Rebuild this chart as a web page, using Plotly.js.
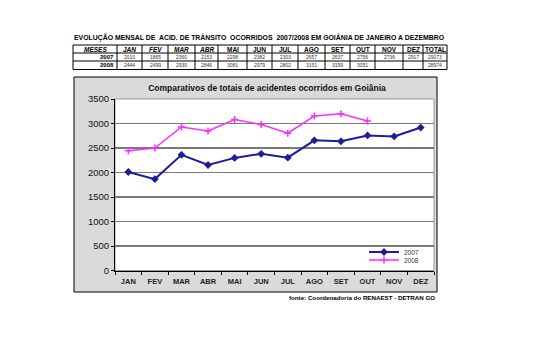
<!DOCTYPE html>
<html>
<head>
<meta charset="utf-8">
<script src="https://cdn.plot.ly/plotly-3.0.1.min.js"></script>
<style>html,body{margin:0;padding:0;background:#fff;}#chart{width:550px;height:351px;}</style>
</head>
<body>
<div id="chart"></div>
<script>
const months = ["JAN","FEV","MAR","ABR","MAI","JUN","JUL","AGO","SET","OUT","NOV","DEZ"];
const values2007 = [2010, 1865, 2360, 2153, 2298, 2382, 2303, 2657, 2637, 2756, 2736, 2917];
const values2008 = [2444, 2499, 2930, 2846, 3081, 2979, 2802, 3151, 3199, 3051, null, null];
const total2007 = "29073";
const total2008 = "28974";
const seriesNames = ["2007", "2008"];
const rowLabels = ["2007", "2008"];
const tableTitle = "EVOLUÇÃO MENSAL DE  ACID. DE TRÂNSITO  OCORRIDOS  2007/2008 EM GOIÂNIA DE JANEIRO A DEZEMBRO";
const chartTitle = "Comparativos de totais de acidentes ocorridos em Goiânia";
const sourceText = "fonte: Coordenadoria do RENAEST - DETRAN GO";

const W = 550, H = 351;
const px = x => x / W;
const py = y => 1 - y / H;

const narrow = "Liberation Sans Narrow, Arial Narrow, Liberation Sans, sans-serif";
const arial = "Liberation Sans, Arial, sans-serif";

// ---- table layout (positions in px) ----
const colEdges = [73, 117, 142, 168, 195, 218, 247, 272, 298, 325, 350, 375, 403, 423, 447];
const rowEdges = [45, 53, 61, 69.5];

const shapes = [];
const annotations = [];

// chart box background & plot area
shapes.push({type: "rect", xref: "paper", yref: "paper", layer: "below",
  x0: px(74), x1: px(437), y0: py(292), y1: py(77),
  fillcolor: "#dadada", line: {color: "#000", width: 1}});
shapes.push({type: "rect", xref: "paper", yref: "paper", layer: "below",
  x0: px(115), x1: px(434), y0: py(270.5), y1: py(99),
  fillcolor: "#fff", line: {color: "#999", width: 1}});

// table grid
rowEdges.forEach(y => shapes.push({type: "line", xref: "paper", yref: "paper",
  x0: px(colEdges[0]), x1: px(colEdges[colEdges.length - 1]), y0: py(y), y1: py(y),
  line: {color: "#000", width: 1}}));
colEdges.forEach(x => shapes.push({type: "line", xref: "paper", yref: "paper",
  x0: px(x), x1: px(x), y0: py(rowEdges[0]), y1: py(rowEdges[rowEdges.length - 1]),
  line: {color: "#000", width: 1}}));

const headerVals = ["MESES"].concat(months).concat(["TOTAL"]);
const rows = [
  [rowLabels[0]].concat(values2007.map(v => String(v))).concat([total2007]),
  [rowLabels[1]].concat(values2008.map(v => v == null ? "" : String(v))).concat([total2008])
];
function cellCenter(c) { return (colEdges[c] + colEdges[c + 1]) / 2; }
headerVals.forEach((h, c) => {
  annotations.push({text: c <= 4 ? "<b><i>" + h + "</i></b>" : "<b>" + h + "</b>",
    xref: "paper", yref: "paper", x: px(cellCenter(c)), y: py((rowEdges[0] + rowEdges[1]) / 2),
    xanchor: "center", yanchor: "middle", showarrow: false,
    font: {family: narrow, size: 6.5, color: "#000"}});
});
rows.forEach((r, ri) => {
  r.forEach((v, c) => {
    if (v === "") return;
    const yc = py((rowEdges[ri + 1] + rowEdges[ri + 2]) / 2);
    if (c === 0) {
      annotations.push({text: "<b>" + v + "</b>", xref: "paper", yref: "paper",
        x: px(colEdges[1] - 1), y: yc, xanchor: "right", yanchor: "middle", showarrow: false,
        font: {family: narrow, size: 6, color: "#000"}});
    } else {
      annotations.push({text: v, xref: "paper", yref: "paper",
        x: px(cellCenter(c)), y: yc, xanchor: "center", yanchor: "middle", showarrow: false,
        font: {family: narrow, size: 5, color: "#333"}});
    }
  });
});

annotations.push({text: "<b>" + tableTitle + "</b>", xref: "paper", yref: "paper", x: px(259), y: py(37),
  xanchor: "center", yanchor: "middle", showarrow: false,
  font: {family: narrow, size: 6.9, color: "#000"}});
annotations.push({text: "<b>" + sourceText + "</b>", xref: "paper", yref: "paper", x: px(437), y: py(297.5),
  xanchor: "right", yanchor: "middle", showarrow: false,
  font: {family: arial, size: 6.2, color: "#000"}});

const t2007 = {
  type: "scatter", mode: "lines+markers", name: seriesNames[0], legend: "legend",
  x: months, y: values2007,
  line: {color: "#1c1c9c", width: 2},
  marker: {symbol: "diamond", size: 6, color: "#1c1c9c"}
};
const t2008 = {
  type: "scatter", mode: "lines+markers", name: seriesNames[1], legend: "legend2",
  x: months, y: values2008,
  line: {color: "#ff2bff", width: 1.5},
  marker: {symbol: "cross-thin-open", size: 5, line: {color: "#ff2bff", width: 1.5}}
};

const legendBase = {
  xanchor: "left", yanchor: "middle",
  bgcolor: "rgba(0,0,0,0)",
  borderwidth: 0,
  font: {family: narrow, size: 6.5, color: "#333"},
  itemwidth: 30
};

const layout = {
  width: W, height: H,
  margin: {l: 0, r: 0, t: 0, b: 0},
  paper_bgcolor: "#fff",
  plot_bgcolor: "#fff",
  showlegend: true,
  title: {
    text: chartTitle,
    x: px(267), xanchor: "center",
    y: py(88), yanchor: "middle",
    font: {family: arial, size: 8.5, weight: "bold", color: "#111"}
  },
  xaxis: {
    domain: [px(115), px(434)],
    type: "category",
    range: [-0.5, 11.5],
    showline: true, linecolor: "#000", linewidth: 1,
    ticks: "outside", ticklen: 3, tickcolor: "#000",
    tickson: "boundaries",
    tickangle: 0,
    ticklabelstandoff: 3,
    showgrid: false,
    tickfont: {family: arial, size: 7.5, weight: "bold", color: "#222"},
    fixedrange: true
  },
  yaxis: {
    domain: [py(270.5), py(99)],
    range: [0, 3500],
    dtick: 500,
    showline: true, linecolor: "#000", linewidth: 1,
    ticks: "outside", ticklen: 3, tickcolor: "#000",
    showgrid: true, gridcolor: "#7a7a7a", gridwidth: 1.5,
    zeroline: false,
    tickfont: {family: arial, size: 9.5, color: "#111"},
    fixedrange: true
  },
  legend: Object.assign({x: px(364), y: py(252)}, legendBase),
  legend2: Object.assign({x: px(364), y: py(260)}, legendBase),
  shapes: shapes,
  annotations: annotations
};

Plotly.newPlot("chart", [t2007, t2008], layout, {staticPlot: true, displayModeBar: false});
</script>
</body>
</html>
